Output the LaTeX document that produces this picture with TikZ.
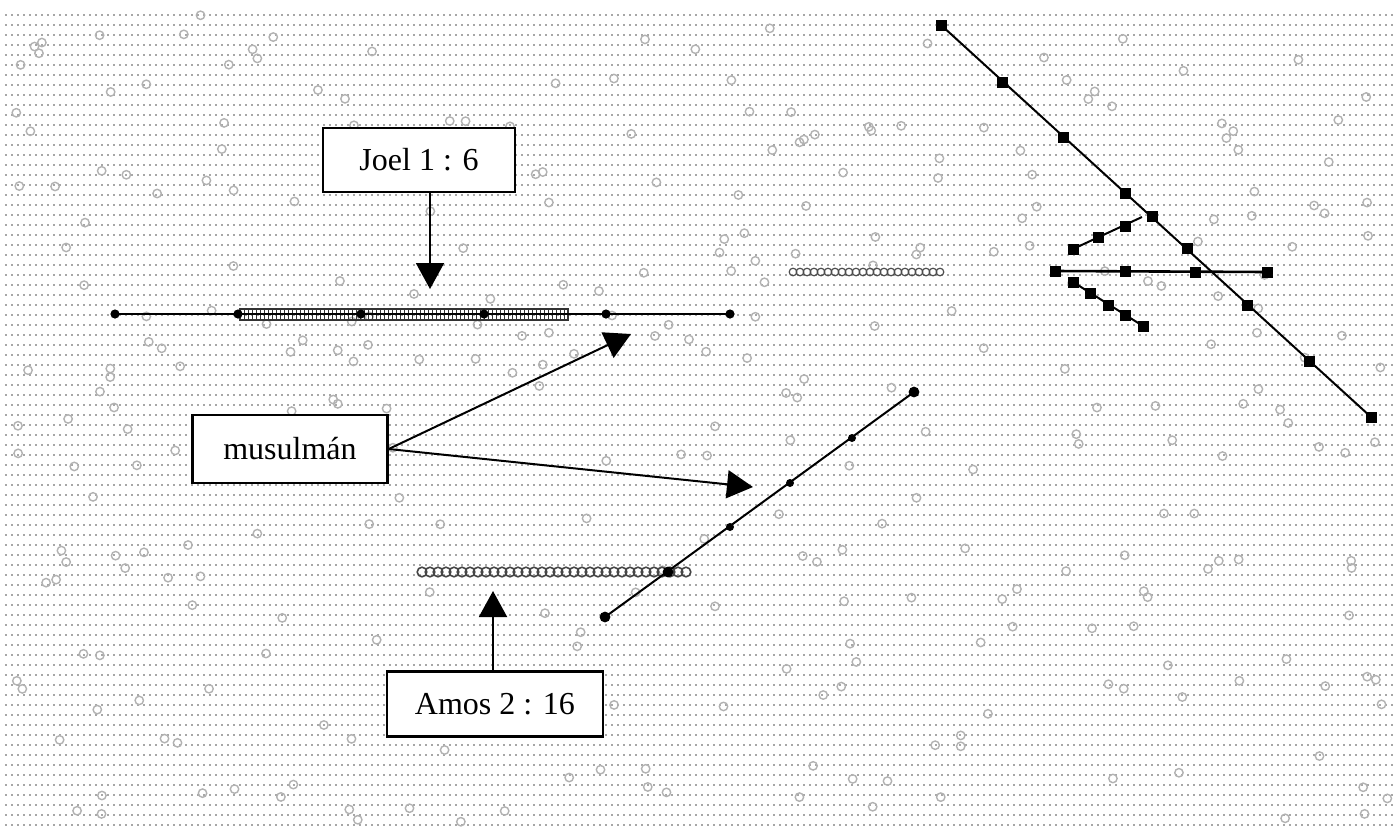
\documentclass[tikz,border=0pt]{standalone}
\usepackage{fontspec}
\setmainfont{Liberation Serif}
\usetikzlibrary{arrows.meta}
\begin{document}
\begin{tikzpicture}[x=0.5pt,y=-0.5pt,
  box/.style={draw=black,line width=1.2pt,fill=white,inner sep=0pt,font=\fontsize{16}{18}\selectfont},
  bigarrow/.style={line width=1pt,-{Triangle[length=13pt,width=14pt]}},
  thinline/.style={line width=1pt},
  bgdot/.style={gray!75!black,line width=0.9pt,dash pattern=on 0.9pt off 2.1pt},
  ring/.style={gray!60,line width=0.7pt},
  dotm/.style={fill=black},
  sqm/.style={fill=black}
]
\useasboundingbox[fill=white] (0,0) rectangle (1398,836);
% background dotted grid
\foreach \yy in {15,25,...,825} \draw[bgdot,opacity=0.55] (5,\yy) -- (1394,\yy);
% scattered rings
\pgfmathsetseed{42}
\foreach \i in {1,...,330}{
  \pgfmathsetmacro{\rx}{rnd*1380+8}
  \pgfmathsetmacro{\ry}{rnd*810+14}
  \draw[ring] (\rx,\ry) circle (2.1pt);
}
% ---- top-left horizontal line with hatched band
\draw[gray!40!black,line width=0.6pt] (240,309) rectangle (568,320);
\draw[gray!40!black,line width=0.6pt] (240,314.5) -- (568,314.5);
\foreach \xx in {244,248,...,566} \draw[gray!40!black,line width=0.4pt] (\xx,309) -- (\xx,320);
\coordinate (h1) at (115,314);
\coordinate (h2) at (238,314);
\coordinate (h3) at (361,314);
\coordinate (h4) at (484,314);
\coordinate (h5) at (606,314);
\coordinate (h6) at (730,314);
\draw[thinline] (h1) -- (h6);
\foreach \p in {h1,h2,h3,h4,h5,h6} \fill[dotm] (\p) circle (2.3pt);
% ---- chains of small circles
\foreach \xx in {422,430,...,686} \draw[gray!55!black,line width=0.8pt] (\xx,572) circle (2.4pt);
\foreach \xx in {793,800,...,940} \draw[gray!60!black,line width=0.6pt] (\xx,272) circle (1.9pt);
% ---- lower diagonal line
\coordinate (d1) at (605,617);
\coordinate (d2) at (668,572);
\coordinate (d3) at (730,527);
\coordinate (d4) at (790,483);
\coordinate (d5) at (852,438);
\coordinate (d6) at (914,392);
\draw[thinline] (d1) -- (d6);
\foreach \p in {d1,d2,d6} \fill[sqm] (\p) circle (2.7pt);
\foreach \p in {d3,d4,d5} \fill[dotm] (\p) circle (2pt);
% ---- top-right long diagonal
\coordinate (r1) at (941,25);
\coordinate (r2) at (1002,82);
\coordinate (r3) at (1063,137);
\coordinate (r4) at (1125,193);
\coordinate (r5) at (1152,216);
\coordinate (r6) at (1187,248);
\coordinate (r7) at (1247,305);
\coordinate (r8) at (1309,361);
\coordinate (r9) at (1371,417);
\draw[thinline] (r1) -- (r9);
\foreach \p in {r1,r2,r3,r4,r5,r6,r7,r8,r9} \fill[sqm] ([shift={(-5.5,-5.5)}]\p) rectangle ([shift={(5.5,5.5)}]\p);
% ---- right horizontal line
\coordinate (m1) at (1055,271);
\coordinate (m2) at (1125,271);
\coordinate (m3) at (1195,272);
\coordinate (m4) at (1267,272);
\draw[line width=1.3pt] (m1) -- (m4);
\foreach \p in {m1,m2,m3,m4} \fill[sqm] ([shift={(-5.5,-5.5)}]\p) rectangle ([shift={(5.5,5.5)}]\p);
% ---- upper branch
\coordinate (u1) at (1073,249);
\coordinate (u2) at (1098,237);
\coordinate (u3) at (1125,226);
\coordinate (u4) at (1142,217);
\draw[thinline] (u1) -- (u4);
\foreach \p in {u1,u2,u3} \fill[sqm] ([shift={(-5.5,-5.5)}]\p) rectangle ([shift={(5.5,5.5)}]\p);
% ---- lower branch
\coordinate (l1) at (1073,282);
\coordinate (l2) at (1090,293);
\coordinate (l3) at (1108,305);
\coordinate (l4) at (1125,315);
\coordinate (l5) at (1143,326);
\draw[thinline] (l1) -- (l5);
\foreach \p in {l1,l2,l3,l4,l5} \fill[sqm] ([shift={(-5.5,-5.5)}]\p) rectangle ([shift={(5.5,5.5)}]\p);
% ---- boxes
\node[box,minimum width=96pt,minimum height=32pt] (joel) at (419,160) {Joel 1 : 6};
\node[box,minimum width=97.5pt,minimum height=34pt] (mus) at (290,449) {musulmán};
\node[box,minimum width=108pt,minimum height=32.5pt] (amos) at (495,704) {Amos 2 : 16};
% ---- arrows
\coordinate (ja) at (430,289);
\draw[bigarrow] (joel.south -| ja) -- (ja);
\coordinate (aa) at (493,591);
\draw[bigarrow] (amos.north -| aa) -- (aa);
\coordinate (t1) at (631,334);
\coordinate (t2) at (753,487);
\draw[bigarrow] (mus.east) -- (t1);
\draw[bigarrow] (mus.east) -- (t2);
\end{tikzpicture}
\end{document}
